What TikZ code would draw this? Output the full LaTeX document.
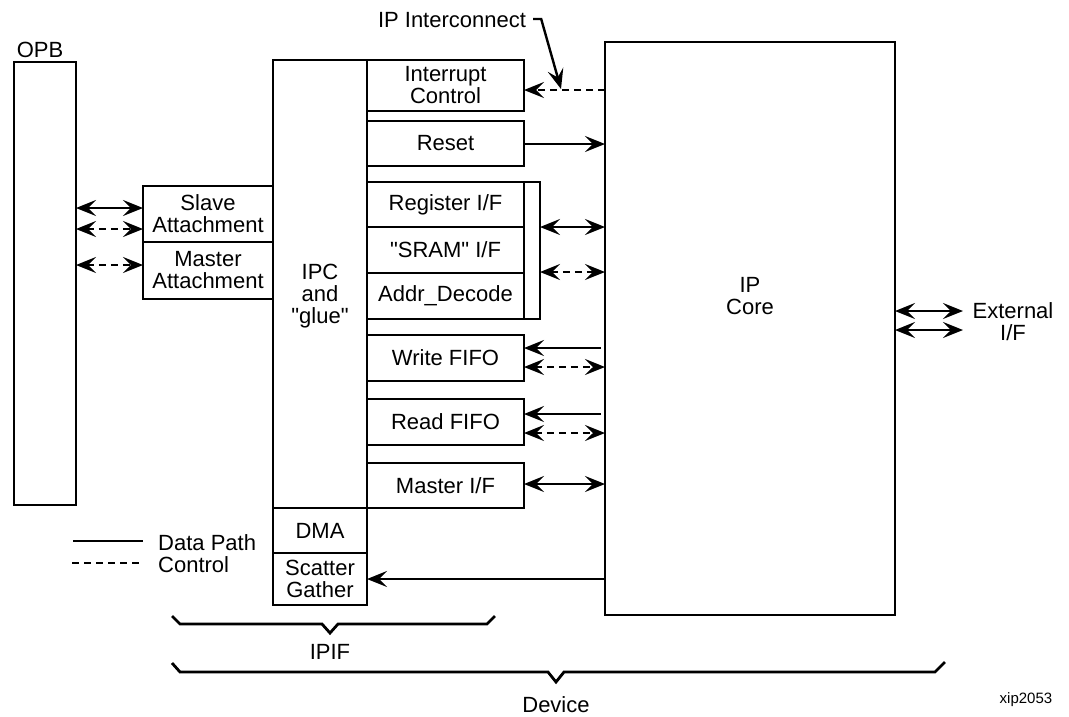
\documentclass[tikz,border=0pt]{standalone}
\usepackage{fontspec}
\newfontfamily\qfont{Liberation Sans}
\setmainfont{Liberation Sans}
\usetikzlibrary{arrows.meta}
\newcommand\dfont{\qfont\fontsize{22}{22}\selectfont}
\newcommand\blkbox[6]{\node[blk, minimum width={(#4-#2)*1pt}, minimum height={(#5-#3)*1pt}] (#1) at ({(#2+#4)/2},{(#3+#5)/2}) {#6};}
\begin{document}
\begin{tikzpicture}[x=1pt,y=-1pt,
  lw/.style={line width=2.8pt},
  alw/.style={line width=2.4pt},
  blk/.style={draw, lw, inner sep=0pt, outer sep=0pt, align=center, font=\dfont},
  txt/.style={inner sep=0pt, align=center, font=\dfont},
  conn/.style={alw},
  one/.style={-{Stealth[length=20pt,width=16pt,inset=8pt]}},
  two/.style={{Stealth[length=20pt,width=16pt,inset=8pt]}-{Stealth[length=20pt,width=16pt,inset=8pt]}},
  ctl/.style={conn, dash pattern=on 7pt off 5pt},
  brace/.style={lw, line join=miter}]
\useasboundingbox (0,0) rectangle (1069,716);
% blocks
\blkbox{opb}{14}{62}{76}{505}{}
\node[txt] (opbl) at (40,50) {OPB};
\blkbox{slave}{143}{186}{273}{242}{Slave\\Attachment}
\blkbox{master}{143}{242}{273}{299}{Master\\Attachment}
\blkbox{ipc}{273}{60}{367}{508}{}
\node[txt] (ipcl) at (320,296) {IPC\\and\\"glue"};
\blkbox{dma}{273}{508}{367}{553}{DMA}
\blkbox{sg}{273}{553}{367}{605}{Scatter\\Gather}
\blkbox{intc}{367}{60}{524}{111}{Interrupt\\Control}
\blkbox{reset}{367}{121}{524}{166}{Reset}
\blkbox{reg}{367}{182}{524}{227}{Register I/F}
\blkbox{sram}{367}{227}{524}{273}{"SRAM" I/F}
\blkbox{addr}{367}{273}{524}{319}{Addr\_Decode}
\blkbox{regbar}{524}{182}{540}{319}{}
\blkbox{wfifo}{367}{335}{524}{381}{Write FIFO}
\blkbox{rfifo}{367}{399}{524}{445}{Read FIFO}
\blkbox{mif}{367}{463}{524}{508}{Master I/F}
\blkbox{ipcore}{605}{42}{895}{615}{}
\node[txt] (ipcorel) at (750,296) {IP\\Core};
\node[txt] (ipi) at (452,20) {IP Interconnect};
\node[txt] (ext) at (1013,322) {External\\I/F};
% OPB side
\draw[conn,two] (opb.east |- 0,208) -- (slave.west |- 0,208);
\draw[ctl,two] (opb.east |- 0,229) -- (slave.west |- 0,229);
\draw[ctl,two] (opb.east |- 0,265) -- (master.west |- 0,265);
% IP core side
\draw[ctl,one] (ipcore.west |- 0,90) -- (intc.east |- 0,90);
\draw[conn,one] (reset.east |- 0,144) -- (ipcore.west |- 0,144);
\draw[conn,two] (regbar.east |- 0,227) -- (ipcore.west |- 0,227);
\draw[ctl,two] (regbar.east |- 0,272) -- (ipcore.west |- 0,272);
\draw[conn,one] ([xshift=-4pt]ipcore.west |- 0,348) -- (wfifo.east |- 0,348);
\draw[ctl,two] (wfifo.east |- 0,367) -- (ipcore.west |- 0,367);
\draw[conn,one] ([xshift=-4pt]ipcore.west |- 0,414) -- (rfifo.east |- 0,414);
\draw[ctl,two] (rfifo.east |- 0,433) -- (ipcore.west |- 0,433);
\draw[conn,two] (mif.east |- 0,484) -- (ipcore.west |- 0,484);
\draw[conn,one] (ipcore.west |- 0,579) -- (sg.east |- 0,579);
% external
\coordinate (ext1) at (963,311);
\coordinate (ext2) at (963,330);
\draw[conn,two] (ipcore.east |- ext1) -- (ext1);
\draw[conn,two] (ipcore.east |- ext2) -- (ext2);
% IP interconnect pointer
\coordinate (ptr) at (561,89);
\draw[conn,one,line join=miter] ([xshift=7pt,yshift=1pt]ipi.east) -- ++(8,0) -- (ptr);
% legend
\coordinate (la1) at (73,541); \coordinate (la2) at (143,541);
\coordinate (lb1) at (72,563); \coordinate (lb2) at (142,563);
\draw[alw] (la1) -- (la2);
\draw[alw, dash pattern=on 7pt off 5pt] (lb1) -- (lb2);
\node[txt, anchor=west] (ldp) at (158,543) {Data Path};
\node[txt, anchor=west] (lct) at (158,565) {Control};
% braces
\draw[brace] (172,616) -- (180,624) -- (322,624) -- (330,633) -- (338,624) -- (487,624) -- (495,616);
\node[txt] (ipif) at (330,652) {IPIF};
\draw[brace] (172,663) -- (180,672) -- (548,672) -- (556,682) -- (564,672) -- (935,672) -- (945,662);
\node[txt] (dev) at (556,705) {Device};
\node[inner sep=0pt, font=\qfont\fontsize{15}{16}\selectfont] (xip) at (1026,700) {xip2053};
\end{tikzpicture}
\end{document}
